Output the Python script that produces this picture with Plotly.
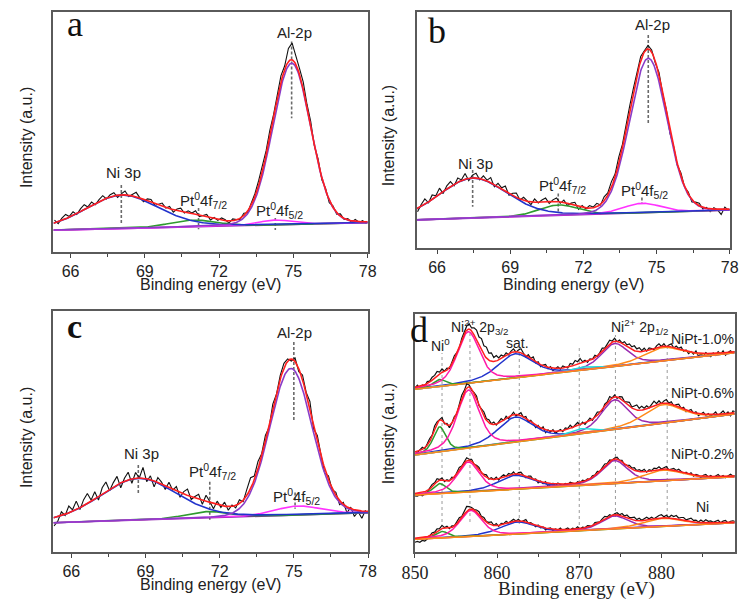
import numpy as np
import plotly.graph_objects as go

W, H = 753, 601

# ---------------- Panels a-c : Ni 3p / Pt 4f / Al 2p region ----------------
# component order: Ni 3p, Pt0 4f7/2, Pt0 4f5/2, Al-2p
COMP_NAMES_ABC = ["Ni 3p", "Pt4f7/2", "Pt4f5/2", "Al-2p"]

A_CENTERS = [68.06, 70.94, 74.27, 74.93]
A_HEIGHTS = [13.9, 2.8, 2.0, 67.2]
A_FWHM = [3.5, 2.2, 1.6, 1.8]
A_LFRAC = [0.2, 0.1, 0.1, 0.05]
A_BG = [9.0, 12.1]              # background at left / right end
A_X0, A_STEP = 65.35, 0.15
A_RESID = [1.2, -0.8, 0.9, 1.8, 0.3, 1.5, -0.4, 1.1, 2.0, 0.2,
           1.4, -0.6, 0.8, 1.7, -0.3, 0.9, 1.3, -0.9, 0.4, 1.6,
           -0.5, 0.7, 1.9, 0.1, -1.0, 0.8, 1.2, -0.7, 0.5, 1.4,
           -0.2, 0.9, -1.1, 0.6, 1.3, -0.4, 0.8, 0.2, 1.5, -0.6,
           0.3, 1.1, -0.8, 0.6, -0.3, 1.0, 0.4, -0.9, 0.7, 0.1,
           -0.5, 0.9, -0.7, 0.6, 1.2, 2.0, 3.1, 1.8, 2.6, 1.2,
           1.6, 2.8, 1.5, 5.5, 7.0, 4.0, 2.5, 3.0, 1.2, 2.0,
           -0.5, 1.5, -1.0, 0.8, -1.2, 0.6, -0.7, 0.9, -0.4, 0.5,
           -0.6, 0.8, -0.3, 0.4, -0.8]

B_CENTERS = [67.46, 70.97, 74.40, 74.66]
B_HEIGHTS = [16.9, 4.4, 4.0, 65.2]
B_FWHM = [3.3, 1.9, 1.8, 1.8]
B_LFRAC = [0.2, 0.1, 0.1, 0.05]
B_BG = [12.0, 16.2]
B_X0, B_STEP = 65.2, 0.15
B_RESID = [-1.5, 0.8, 2.2, -0.4, 1.9, 0.5, 2.6, -0.8, 1.4, 2.1,
           -0.6, 1.8, 0.3, 2.4, -1.0, 1.2, 2.0, -0.5, 1.6, 0.4,
           2.2, -0.9, 1.5, 0.6, 2.3, -0.7, 1.0, 1.9, -0.4, 1.3,
           0.2, -1.1, 1.4, -0.3, 0.9, 1.6, -0.8, 0.7, 1.5, -0.6,
           1.0, -0.9, 0.5, 1.3, -1.2, 0.8, -0.4, 1.1, 0.3, 1.4,
           -0.3, 1.6, 0.9, 2.4, 1.2, 2.8, 1.5, 3.0, 2.2, 1.6,
           0.8, 1.9, 0.5, 1.5, 0.9, -0.8, 1.2, -0.5, 0.7, -1.4,
           0.6, -0.9, 1.3, -0.4, 0.8, -1.0, 0.5, 1.1, -0.7, 0.4,
           -1.2, 0.6, -0.3, -2.2, 0.9, -0.5]

C_CENTERS = [68.70, 71.50, 75.15, 74.88]
C_HEIGHTS = [17.3, 2.6, 3.7, 60.9]
C_FWHM = [3.7, 2.0, 2.2, 2.0]
C_LFRAC = [0.2, 0.1, 0.1, 0.05]
C_BG = [12.0, 16.2]
C_X0, C_STEP = 65.3, 0.15
C_RESID = [-3.5, -2.0, 1.5, -0.5, 2.8, 0.6, 3.5, -0.8, 2.5, 4.2,
           0.5, 3.0, -1.5, 2.6, 4.0, -0.6, 1.8, 3.5, -2.0, 1.2,
           3.2, -1.8, 2.4, 0.0, 4.5, -1.2, 1.6, -2.5, 2.0, 0.8,
           -1.6, 2.2, -0.4, 1.8, -2.0, 1.0, 2.6, -1.2, 0.5, 1.9,
           -1.8, 2.4, 0.3, -2.2, 1.4, -0.8, 1.7, -1.5, 0.6, -1.0,
           1.5, -0.6, 2.5, 4.5, 1.5, 3.0, 0.8, 2.2, -1.0, 1.8,
           -0.5, 1.5, 2.0, 1.0, -0.8, 1.5, -1.2, 2.0, 0.5, 3.2,
           -1.5, 2.4, 0.3, -2.0, 1.5, -0.6, 1.2, -1.8, 0.8, -2.5,
           0.6, -2.8, -0.5, -3.0, 0.4]

# peak marker lines (x, y from, y to) for panels a-c
A_MARK_X = [68.05, 71.17, 74.27, 74.93]
A_MARK_Y = [(27.8, 11.8), (18.2, 9.4), (14.0, 9.0), (87.6, 55.6)]
B_MARK_X = [67.46, 70.97, 74.40, 74.66]
B_MARK_Y = [(33.1, 17.6), (23.2, 14.8), (21.5, 18.7), (90.2, 52.8)]
C_MARK_X = [68.71, 71.60, 75.05, 75.00]
C_MARK_Y = [(36.0, 24.0), (29.0, 13.0), (24.6, 17.8), (87.0, 54.0)]

X_TICKS_ABC = [66, 69, 72, 75, 78]

# ---------------- Panel d : Ni 2p ----------------
D_LABELS = ["NiPt-1.0%", "NiPt-0.6%", "NiPt-0.2%", "Ni"]
# components: Ni0, Ni2+ 2p3/2, sat., 870 feature, Ni2+ 2p1/2, sat.
D_CENTERS = [853.0, 856.5, 862.2, 870.2, 874.3, 880.2]
D_FWHM = [1.8, 3.2, 5.0, 3.0, 3.8, 5.5]
D_LFRAC = 0.45
D_SHIFT = [0.0, 0.0, 0.0, 0.3]
D_BG_LEFT = [162.7, 97.0, 57.0, 12.7]
D_BG_RIGHT = [199.3, 138.0, 75.3, 29.3]
D_AMP_NI0 = [7.0, 25.0, 10.0, 6.5]
D_AMP_2P3 = [51.5, 58.0, 30.0, 26.0]
D_AMP_SAT = [24.0, 25.0, 14.0, 12.0]
D_AMP_870 = [3.0, 5.0, 0.0, 0.0]
D_AMP_2P1 = [23.0, 29.6, 23.0, 13.0]
D_AMP_SAT2 = [13.4, 18.5, 10.7, 8.0]
D_X0, D_STEP = 850.0, 0.3
D_RESID_10 = [-1.0, 1.5, -2.0, 0.5, -1.5, 2.0, 1.0, 3.0, 2.5, 4.0,
              1.5, 3.5, 0.5, 2.0, -1.0, 1.5, 3.0, 0.0, -2.0, 1.0,
              2.5, 4.0, 5.5, 3.0, 7.0, 10.0, 8.5, 12.0, 9.0, 11.0,
              7.0, 8.5, 4.0, 5.5, 2.0, 3.5, 0.5, 2.5, -1.0, 1.5,
              3.0, -0.5, 2.0, 4.0, 1.0, -1.5, 2.5, 0.5, 3.5, -1.0,
              1.5, -2.0, 0.5, 2.0, -1.5, 1.0, -2.5, 0.0, 1.5, -1.0,
              2.0, 0.5, -1.0, 3.0, 1.5, 4.5, 2.5, 5.0, 1.0, 2.0,
              -1.0, 1.5, 0.0, 2.5, -0.5, 1.0, 3.0, 0.5, 2.0, 3.5,
              1.0, 3.0, -0.5, 2.0, 0.5, 3.5, 2.0, 4.5, 3.0, 5.0,
              2.5, 4.0, 1.0, 3.0, -0.5, 2.0, 0.5, -1.5, 1.5, 3.0,
              0.0, 2.5, -1.0, 1.5, 3.0, -0.5, 2.0, 0.5, 2.5, -1.0,
              1.0, -2.0, 0.5, -1.5, 2.0, -3.0, -0.5, -2.5, 1.0, -1.5,
              -3.0, 0.5, -2.0, 1.5, -1.0, 2.0, -2.5, 0.0, 1.5, -1.0,
              0.5]
D_RESID_06 = [-3.0, -1.5, 0.5, 2.0, -1.0, 1.5, 3.0, 1.0, 4.0, 2.0,
              0.5, 3.0, -1.0, 1.5, -2.5, 0.0, 2.0, -1.5, 1.0, 3.0,
              1.5, 4.0, 2.0, -1.0, 1.0, 3.5, 0.0, 2.5, 4.5, 1.5,
              3.0, 0.5, 2.5, -1.0, 1.5, 3.0, -0.5, 2.0, -2.0, 0.5,
              2.5, -1.5, 1.0, 3.0, -0.5, 2.0, -2.0, 1.5, 0.0, -2.5,
              1.0, -1.5, 2.0, -3.0, 0.5, -1.0, 1.5, -2.0, 0.0, 1.5,
              -1.0, 2.0, 0.5, 3.0, -0.5, 1.5, 2.5, -1.0, 1.0, -2.0,
              0.5, 2.5, -1.0, 1.0, 3.0, 0.5, -1.5, 2.0, 1.0, 3.5,
              0.0, 2.0, -1.5, 1.5, 3.0, 0.5, 2.5, 4.0, 1.0, 3.5,
              5.0, 2.0, 4.0, 1.5, 3.0, 0.0, 2.5, 4.5, 1.0, 3.0,
              -0.5, 2.0, 3.5, 0.5, 2.5, -1.0, 1.5, 3.0, 0.0, 2.0,
              -1.5, 1.0, 2.5, -0.5, 1.5, -2.0, 0.5, 2.0, -1.0, 1.0,
              -2.0, 0.5, 2.5, -1.5, 1.0, 3.0, -0.5, 1.5, -2.5, 2.0,
              1.0]
D_RESID_02 = [-2.5, -3.0, -2.0, -3.5, -2.5, -1.5, 1.0, 2.5, 1.5, 3.0,
              0.5, 2.0, -1.0, 1.5, 0.0, 2.0, -1.0, 1.0, 2.5, 0.0,
              1.5, 3.0, 1.0, 2.0, -0.5, 1.5, 2.5, 0.0, 1.0, 2.5,
              -0.5, 1.5, 0.0, 2.0, -1.5, 1.0, 2.0, -0.5, 1.5, 0.0,
              2.0, -1.0, 1.5, 2.5, 0.0, -1.5, 1.0, 2.0, -0.5, 1.0,
              -2.0, 0.5, -1.5, 1.0, -3.0, -1.0, 0.5, -2.0, 1.0, -0.5,
              -1.5, 0.5, -1.0, 1.5, 0.0, -1.0, 1.0, -0.5, 1.5, 0.0,
              1.0, -0.5, 1.5, 0.5, 2.0, -0.5, 1.0, 2.0, 0.0, 1.5,
              -0.5, 1.0, 2.0, 0.0, 1.5, -1.0, 0.5, 2.0, 1.0, 2.5,
              0.5, 2.0, 1.0, 2.5, -0.5, 1.5, 0.0, 2.0, 1.0, 2.5,
              0.0, 1.5, 2.5, -0.5, 1.0, 2.0, 0.5, 2.5, 1.0, -0.5,
              1.5, 0.0, 2.0, -1.0, 1.0, 0.5, -1.5, 1.0, 2.0, -0.5,
              1.0, -1.0, 0.5, 2.0, -0.5, 1.0, -1.5, 0.5, 2.0, 0.0,
              0.5]
D_RESID_NI = [-4.0, -3.5, -4.5, -3.0, -4.0, -2.5, 0.0, 2.0, 1.0, 2.5,
              1.0, 3.0, 0.5, 2.0, -0.5, 1.5, 0.0, 2.0, 3.0, 1.0,
              2.5, 5.0, 3.0, 1.5, 0.5, 2.0, 3.0, 1.0, 2.5, 0.5,
              1.5, 3.0, 0.0, 2.0, -1.0, 1.5, 0.5, 2.0, -0.5, 1.0,
              2.0, 0.0, 1.5, -1.0, 1.0, 2.5, -0.5, 1.0, 0.0, -1.5,
              1.0, -1.0, 0.5, -2.0, 0.0, 1.0, -1.5, 0.5, -0.5, 1.5,
              -1.0, 0.5, 1.5, -0.5, 1.0, 0.0, 2.0, -0.5, 1.0, 0.0,
              1.5, 0.5, -0.5, 2.0, 1.0, 0.0, 1.5, 2.5, 0.5, 1.5,
              -0.5, 1.0, 2.0, 0.5, 2.5, 1.0, 3.0, 1.5, 2.0, 3.0,
              1.0, 2.5, 0.5, 2.0, 3.0, 1.0, 2.0, 0.0, 1.5, 2.5,
              3.0, 1.0, 2.5, 0.5, 3.0, 2.0, 3.5, 1.5, 2.5, 3.0,
              1.0, 2.5, 3.5, 1.5, 2.0, 0.5, 2.5, 1.0, 3.0, 1.5,
              2.0, 0.5, 1.5, 2.5, 0.0, 1.5, 2.0, -0.5, 1.0, 1.5,
              0.5]
D_RESIDS = [D_RESID_10, D_RESID_06, D_RESID_02, D_RESID_NI]

D_GUIDE_X = [853.3, 856.7, 862.7, 870.0, 874.4, 880.7]
D_GUIDE_TOP = [199, 219, 205, 207, 217, 207]
D_GUIDE_BOTTOM = [30, 30, 28, 27, 35, 35]
X_TICKS_D = [850, 860, 870, 880]

# ---------------- styling ----------------
SANS = "Liberation Sans, Arial, sans-serif"
SERIF = "Liberation Serif, Times New Roman, serif"
FRAME = "#5a5a5a"
C_RED = "#ff1f1f"
C_BLUE = "#2233cc"
C_GREEN = "#2f9a2f"
C_MAGENTA = "#ff33ff"
C_VIOLET = "#8a3cc8"
C_BGPURPLE = "#8a1fa8"
C_PINK = "#ff1aa8"
C_P21 = "#9a2ab0"
C_ORANGE = "#ff8a1a"
C_CYAN = "#22dddd"
ABC_COLORS = [C_BLUE, C_GREEN, C_MAGENTA, C_VIOLET]
D_COLORS = [C_GREEN, C_PINK, C_BLUE, C_CYAN, C_P21, C_ORANGE]


def pv(x, c, h, w, m):
    t = (x - c) / w
    return h * ((1 - m) * np.exp(-4 * np.log(2) * t * t) + m / (1 + 4 * t * t))


fig = go.Figure()


def add_abc(xr, yr, centers, heights, fwhm, lfrac, bg, x0, step, resid,
            mark_x, mark_y, xlim):
    def bgf(x):
        return bg[0] + (bg[1] - bg[0]) * (x - xlim[0]) / (xlim[1] - xlim[0])

    def model(x):
        y = bgf(x)
        for c, h, w, m in zip(centers, heights, fwhm, lfrac):
            y = y + pv(x, c, h, w, m)
        return y

    xd = x0 + step * np.arange(len(resid))
    yd = model(xd) + np.array(resid)
    xf = np.linspace(xlim[0], xlim[1], 500)
    for mx, (y0, y1) in zip(mark_x, mark_y):
        fig.add_trace(go.Scatter(x=[mx, mx], y=[y0, y1], mode="lines", xaxis=xr, yaxis=yr,
                                 line=dict(color="#6a6a6a", width=1.6, dash="3px,2px"),
                                 hoverinfo="skip", showlegend=False))
    fig.add_trace(go.Scatter(x=xd, y=yd, mode="lines", xaxis=xr, yaxis=yr,
                             line=dict(color="#111111", width=1.1), showlegend=False))
    fig.add_trace(go.Scatter(x=xf, y=bgf(xf), mode="lines", xaxis=xr, yaxis=yr,
                             line=dict(color=C_BGPURPLE, width=1.6), showlegend=False))
    for i in [1, 2, 0, 3]:
        c, h, w, m = centers[i], heights[i], fwhm[i], lfrac[i]
        fig.add_trace(go.Scatter(x=xf, y=bgf(xf) + pv(xf, c, h, w, m), mode="lines",
                                 xaxis=xr, yaxis=yr, name=COMP_NAMES_ABC[i],
                                 line=dict(color=ABC_COLORS[i], width=1.6), showlegend=False))
    fig.add_trace(go.Scatter(x=xf, y=model(xf), mode="lines", xaxis=xr, yaxis=yr,
                             line=dict(color=C_RED, width=1.6), showlegend=False))


XLIM_A = [65.31, 78.0]
XLIM_B = [65.16, 78.0]
XLIM_C = [65.28, 78.0]
XLIM_D = [850.0, 888.9]

add_abc("x", "y", A_CENTERS, A_HEIGHTS, A_FWHM, A_LFRAC, A_BG, A_X0, A_STEP, A_RESID,
        A_MARK_X, A_MARK_Y, XLIM_A)
add_abc("x2", "y2", B_CENTERS, B_HEIGHTS, B_FWHM, B_LFRAC, B_BG, B_X0, B_STEP, B_RESID,
        B_MARK_X, B_MARK_Y, XLIM_B)
add_abc("x3", "y3", C_CENTERS, C_HEIGHTS, C_FWHM, C_LFRAC, C_BG, C_X0, C_STEP, C_RESID,
        C_MARK_X, C_MARK_Y, XLIM_C)

# ---- panel d ----
for gx, gt, gb in zip(D_GUIDE_X, D_GUIDE_TOP, D_GUIDE_BOTTOM):
    fig.add_trace(go.Scatter(x=[gx, gx], y=[gb, gt], mode="lines", xaxis="x4", yaxis="y4",
                             line=dict(color="#9a9a9a", width=1, dash="dot"),
                             hoverinfo="skip", showlegend=False))

xf_d = np.linspace(XLIM_D[0], XLIM_D[1], 700)
for k in range(4):
    amps = [D_AMP_NI0[k], D_AMP_2P3[k], D_AMP_SAT[k], D_AMP_870[k], D_AMP_2P1[k], D_AMP_SAT2[k]]
    cents = [c + (D_SHIFT[k] if j < 3 else 0.0) for j, c in enumerate(D_CENTERS)]

    def bgd(x, k=k):
        return D_BG_LEFT[k] + (D_BG_RIGHT[k] - D_BG_LEFT[k]) * (x - XLIM_D[0]) / (XLIM_D[1] - XLIM_D[0])

    def model_d(x, amps=amps, cents=cents, bgd=bgd):
        y = bgd(x)
        for c, a, w in zip(cents, amps, D_FWHM):
            y = y + pv(x, c, a, w, D_LFRAC)
        return y

    xd = D_X0 + D_STEP * np.arange(len(D_RESIDS[k]))
    yd = model_d(xd) + np.array(D_RESIDS[k])
    fig.add_trace(go.Scatter(x=xd, y=yd, mode="lines", xaxis="x4", yaxis="y4", name=D_LABELS[k],
                             line=dict(color="#111111", width=1.2), showlegend=False))
    for j in [2, 4, 5, 3, 0, 1]:
        if amps[j] <= 0:
            continue
        fig.add_trace(go.Scatter(x=xf_d, y=bgd(xf_d) + pv(xf_d, cents[j], amps[j], D_FWHM[j], D_LFRAC),
                                 mode="lines", xaxis="x4", yaxis="y4",
                                 line=dict(color=D_COLORS[j], width=1.5), showlegend=False))
    fig.add_trace(go.Scatter(x=xf_d, y=bgd(xf_d), mode="lines", xaxis="x4", yaxis="y4",
                             line=dict(color=C_ORANGE, width=1.5), showlegend=False))
    fig.add_trace(go.Scatter(x=xf_d, y=model_d(xf_d), mode="lines", xaxis="x4", yaxis="y4",
                             line=dict(color=C_RED, width=1.5), showlegend=False))


# ---------------- axes ----------------
def px_dom_x(l, r):
    return [l / W, r / W]


def px_dom_y(t, b):
    return [1 - b / H, 1 - t / H]


def xaxis(dom, rng, anchor, ticks, minor_dtick, font, standoff):
    return dict(domain=dom, range=rng, anchor=anchor, showline=True, mirror=True,
                linecolor=FRAME, linewidth=1.6, ticks="outside", ticklen=4, tickwidth=1.2,
                tickcolor="#444", tickvals=ticks, ticktext=[str(t) for t in ticks],
                minor=dict(ticks="outside", dtick=minor_dtick, tick0=ticks[0], ticklen=3,
                           tickwidth=1.1, tickcolor="#444"),
                showgrid=False, zeroline=False, tickfont=font, ticklabelstandoff=standoff)


def yaxis(dom, rng, anchor):
    return dict(domain=dom, range=rng, anchor=anchor, showline=True, mirror=True,
                linecolor=FRAME, linewidth=1.6, showticklabels=False, ticks="",
                showgrid=False, zeroline=False)


tf_sans = dict(family=SANS, size=16, color="#222")
tf_serif = dict(family=SERIF, size=18, color="#222")

fig.update_layout(
    width=W, height=H, margin=dict(l=0, r=0, t=0, b=0),
    paper_bgcolor="white", plot_bgcolor="white", showlegend=False,
    xaxis=xaxis(px_dom_x(41.7, 365.3), XLIM_A, "y", X_TICKS_ABC, 1.5, tf_sans, 0),
    yaxis=yaxis(px_dom_y(11.7, 251.7), [0, 100], "x"),
    xaxis2=xaxis(px_dom_x(415.7, 738.3), XLIM_B, "y2", X_TICKS_ABC, 1.5, tf_sans, 0),
    yaxis2=yaxis(px_dom_y(11.7, 248.3), [0, 100], "x2"),
    xaxis3=xaxis(px_dom_x(41.7, 365.7), XLIM_C, "y3", X_TICKS_ABC, 1.5, tf_sans, 0),
    yaxis3=yaxis(px_dom_y(310.7, 551.7), [0, 100], "x3"),
    xaxis4=xaxis(px_dom_x(414.0, 743.3), XLIM_D, "y4", X_TICKS_D, 5, tf_serif, 0),
    yaxis4=yaxis(px_dom_y(314.0, 552.0), [0, 238], "x4"),
)


# ---------------- text ----------------
def note(text, x, y, size=15, family=SANS, angle=0, color="#222"):
    fig.add_annotation(text=text, x=x / W, y=1 - y / H, xref="paper", yref="paper",
                       showarrow=False, xanchor="center", yanchor="middle", textangle=angle,
                       font=dict(family=family, size=size, color=color))


PT7 = "Pt<sup>0</sup>4f<sub>7/2</sub>"
PT5 = "Pt<sup>0</sup>4f<sub>5/2</sub>"

# panel letters
note("a", 64, 24, size=36, family=SERIF, color="#111")
note("b", 437, 31, size=36, family=SERIF, color="#111")
note("<b>c</b>", 63, 326, size=34, family=SERIF, color="#111")
note("d", 418, 330, size=36, family=SERIF, color="#111")

# panel a
note("Al-2p", 290, 33)
note("Ni 3p", 114, 173)
note(PT7, 196, 201)
note(PT5, 275, 210)
# panel b
note("Al-2p", 659, 25)
note("Ni 3p", 476, 163)
note(PT7, 566, 186)
note(PT5, 650, 191)
# panel c
note("Al-2p", 290, 333)
note("Ni 3p", 132, 453)
note(PT7, 206, 471)
note(PT5, 292, 496)
# panel d
note("Ni<sup>0</sup>", 440, 345, size=14)
note("Ni<sup>2+</sup> 2p<sub>3/2</sub>", 481, 327, size=14)
note("sat.", 520, 343, size=14)
note("Ni<sup>2+</sup> 2p<sub>1/2</sub>", 646, 327, size=14)
for lbl, yy in zip(D_LABELS, [339, 393, 454, 507]):
    note(lbl, 710 if lbl != "Ni" else 710, yy, size=14)

# axis titles
note("Binding energy (eV)", 203, 284, size=16)
note("Binding energy (eV)", 577, 284, size=16)
note("Binding energy (eV)", 203, 584, size=16)
note("Binding energy (eV)", 580, 589, size=19, family=SERIF)
note("Intensity (a.u.)", 13.5, 138, size=16, angle=-90)
note("Intensity (a.u.)", 386.5, 136, size=16, angle=-90)
note("Intensity (a.u.)", 13.5, 438, size=16, angle=-90)
note("Intensity (a.u.)", 386.5, 434, size=16, angle=-90)

fig.write_html("out.html", config={"displayModeBar": False},
               post_script="document.body.style.margin='0';")
